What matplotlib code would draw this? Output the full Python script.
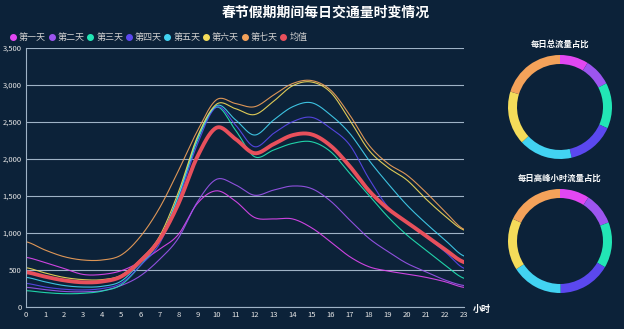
import numpy as np
import matplotlib
matplotlib.use("Agg")
import matplotlib.pyplot as plt
from matplotlib.lines import Line2D
from matplotlib.ticker import FuncFormatter

plt.rcParams['font.family'] = ['Noto Sans CJK SC', 'DejaVu Sans']

# hourly traffic per holiday day (vehicles/hour)
hours = list(range(24))
day_names = ['第一天', '第二天', '第三天', '第四天', '第五天', '第六天', '第七天']
day1 = [671, 600, 520, 440, 440, 490, 610, 780, 980, 1400, 1570, 1430,
        1210, 1190, 1190, 1070, 880, 680, 545, 486, 446, 401, 342, 265]
day2 = [266, 235, 210, 205, 220, 290, 420, 640, 930, 1420, 1725, 1650,
        1510, 1580, 1635, 1600, 1430, 1175, 930, 750, 590, 477, 365, 290]
day3 = [221, 195, 180, 185, 215, 300, 560, 900, 1500, 2280, 2700, 2390,
        2031, 2121, 2211, 2233, 2098, 1806, 1513, 1220, 973, 770, 567, 388]
day4 = [320, 270, 240, 230, 250, 320, 560, 850, 1450, 2200, 2700, 2460,
        2166, 2346, 2504, 2563, 2414, 2189, 1738, 1355, 1135, 950, 747, 523]
day5 = [401, 340, 290, 270, 280, 350, 600, 900, 1500, 2250, 2720, 2530,
        2324, 2526, 2706, 2760, 2594, 2346, 1986, 1670, 1378, 1131, 905, 689]
day6 = [531, 460, 400, 370, 370, 430, 640, 950, 1550, 2300, 2740, 2680,
        2600, 2780, 2990, 3040, 2900, 2526, 2121, 1887, 1716, 1460, 1230, 1040]
day7 = [882, 770, 680, 635, 635, 703, 950, 1333, 1840, 2380, 2800, 2750,
        2706, 2864, 3020, 3060, 2930, 2594, 2189, 1941, 1783, 1550, 1290, 1050]
days = [day1, day2, day3, day4, day5, day6, day7]
mean_flow = np.mean(np.array(days), axis=0)

# share of each day (percent) for the two rings
total_share = [8.9, 8.6, 14.2, 14.7, 16.7, 16.7, 20.2]
peak_share = [9.2, 10.0, 14.2, 16.4, 16.1, 16.1, 18.0]

colors = ['#e247f2', '#9d55ef', '#22e6b5', '#5b48ef', '#42d3f2', '#f4dc5a', '#f4a25a']
mean_color = '#e8505c'
bg = '#0c2239'
W, H = 624, 329


def smooth(x, y, n=20, k=0.5):
    # cardinal spline through the points
    x = np.asarray(x, float)
    y = np.asarray(y, float)
    m = np.zeros_like(y)
    m[1:-1] = (y[2:] - y[:-2]) / 2 * (2 * k)
    m[0] = (y[1] - y[0]) * k
    m[-1] = (y[-1] - y[-2]) * k
    xs, ys = [], []
    for i in range(len(x) - 1):
        t = np.linspace(0, 1, n, endpoint=False)
        h00 = 2 * t**3 - 3 * t**2 + 1
        h10 = t**3 - 2 * t**2 + t
        h01 = -2 * t**3 + 3 * t**2
        h11 = t**3 - t**2
        xs.append(x[i] + t * (x[i + 1] - x[i]))
        ys.append(h00 * y[i] + h10 * m[i] + h01 * y[i + 1] + h11 * m[i + 1])
    xs.append([x[-1]])
    ys.append([y[-1]])
    return np.concatenate(xs), np.concatenate(ys)


fig = plt.figure(figsize=(W / 100, H / 100), dpi=100)
fig.patch.set_facecolor(bg)

ax = fig.add_axes([26 / W, 1 - 307 / H, 438 / W, 259 / H])
ax.set_facecolor(bg)
for name, vals, c in zip(day_names, days, colors):
    sx, sy = smooth(hours, vals)
    ax.plot(sx, sy, color=c, lw=0.8, alpha=0.9)
sx, sy = smooth(hours, mean_flow)
ax.plot(sx, sy, color=mean_color, lw=2.8)

ax.set_xlim(0, 23)
ax.set_ylim(0, 3500)
ax.set_xticks(hours)
ax.set_yticks(np.arange(0, 3501, 500))
ax.yaxis.set_major_formatter(FuncFormatter(lambda v, p: f'{int(v):,}'))
ax.grid(axis='y', color='#9fb3c6', lw=0.8)
ax.set_axisbelow(True)
for s in ['top', 'right']:
    ax.spines[s].set_visible(False)
for s in ['left', 'bottom']:
    ax.spines[s].set_color('#9fb3c6')
    ax.spines[s].set_linewidth(0.8)
ax.tick_params(length=0, labelsize=5.5, colors='#e6e6e6', pad=3)
fig.text(482 / W, 1 - 309 / H, '小时', color='white', fontsize=6.5,
         fontweight='bold', ha='center', va='center')

fig.text(326 / W, 1 - 13 / H, '春节假期期间每日交通量时变情况', color='white',
         fontsize=10, fontweight='bold', ha='center', va='center')

# legend row
labels = day_names + ['均值']
dots = colors + [mean_color]
for i, (lab, c) in enumerate(zip(labels, dots)):
    x = 13 + 38.6 * i
    y = 1 - 37 / H
    fig.add_artist(Line2D([x / W], [y], marker='o', markersize=4, color=c,
                          lw=0, transform=fig.transFigure))
    fig.text((x + 6) / W, y, lab, color='#cfcfcf', fontsize=6.5,
             ha='left', va='center')

# share rings
rings = [(107, total_share, '每日总流量占比', 44),
         (241, peak_share, '每日高峰小时流量占比', 178)]
for cy, share, title, ty in rings:
    pax = fig.add_axes([(560 - 60) / W, 1 - (cy + 60) / H, 120 / W, 120 / H])
    pax.pie(share, colors=colors, startangle=90, counterclock=False,
            radius=52 / 60, wedgeprops=dict(width=9 / 60, edgecolor='none'))
    pax.set_xlim(-1, 1)
    pax.set_ylim(-1, 1)
    pax.set_facecolor(bg)
    fig.text(560 / W, 1 - ty / H, title, color='white', fontsize=6,
             fontweight='bold', ha='center', va='center')

fig.savefig('out.png', dpi=100, facecolor=bg)
